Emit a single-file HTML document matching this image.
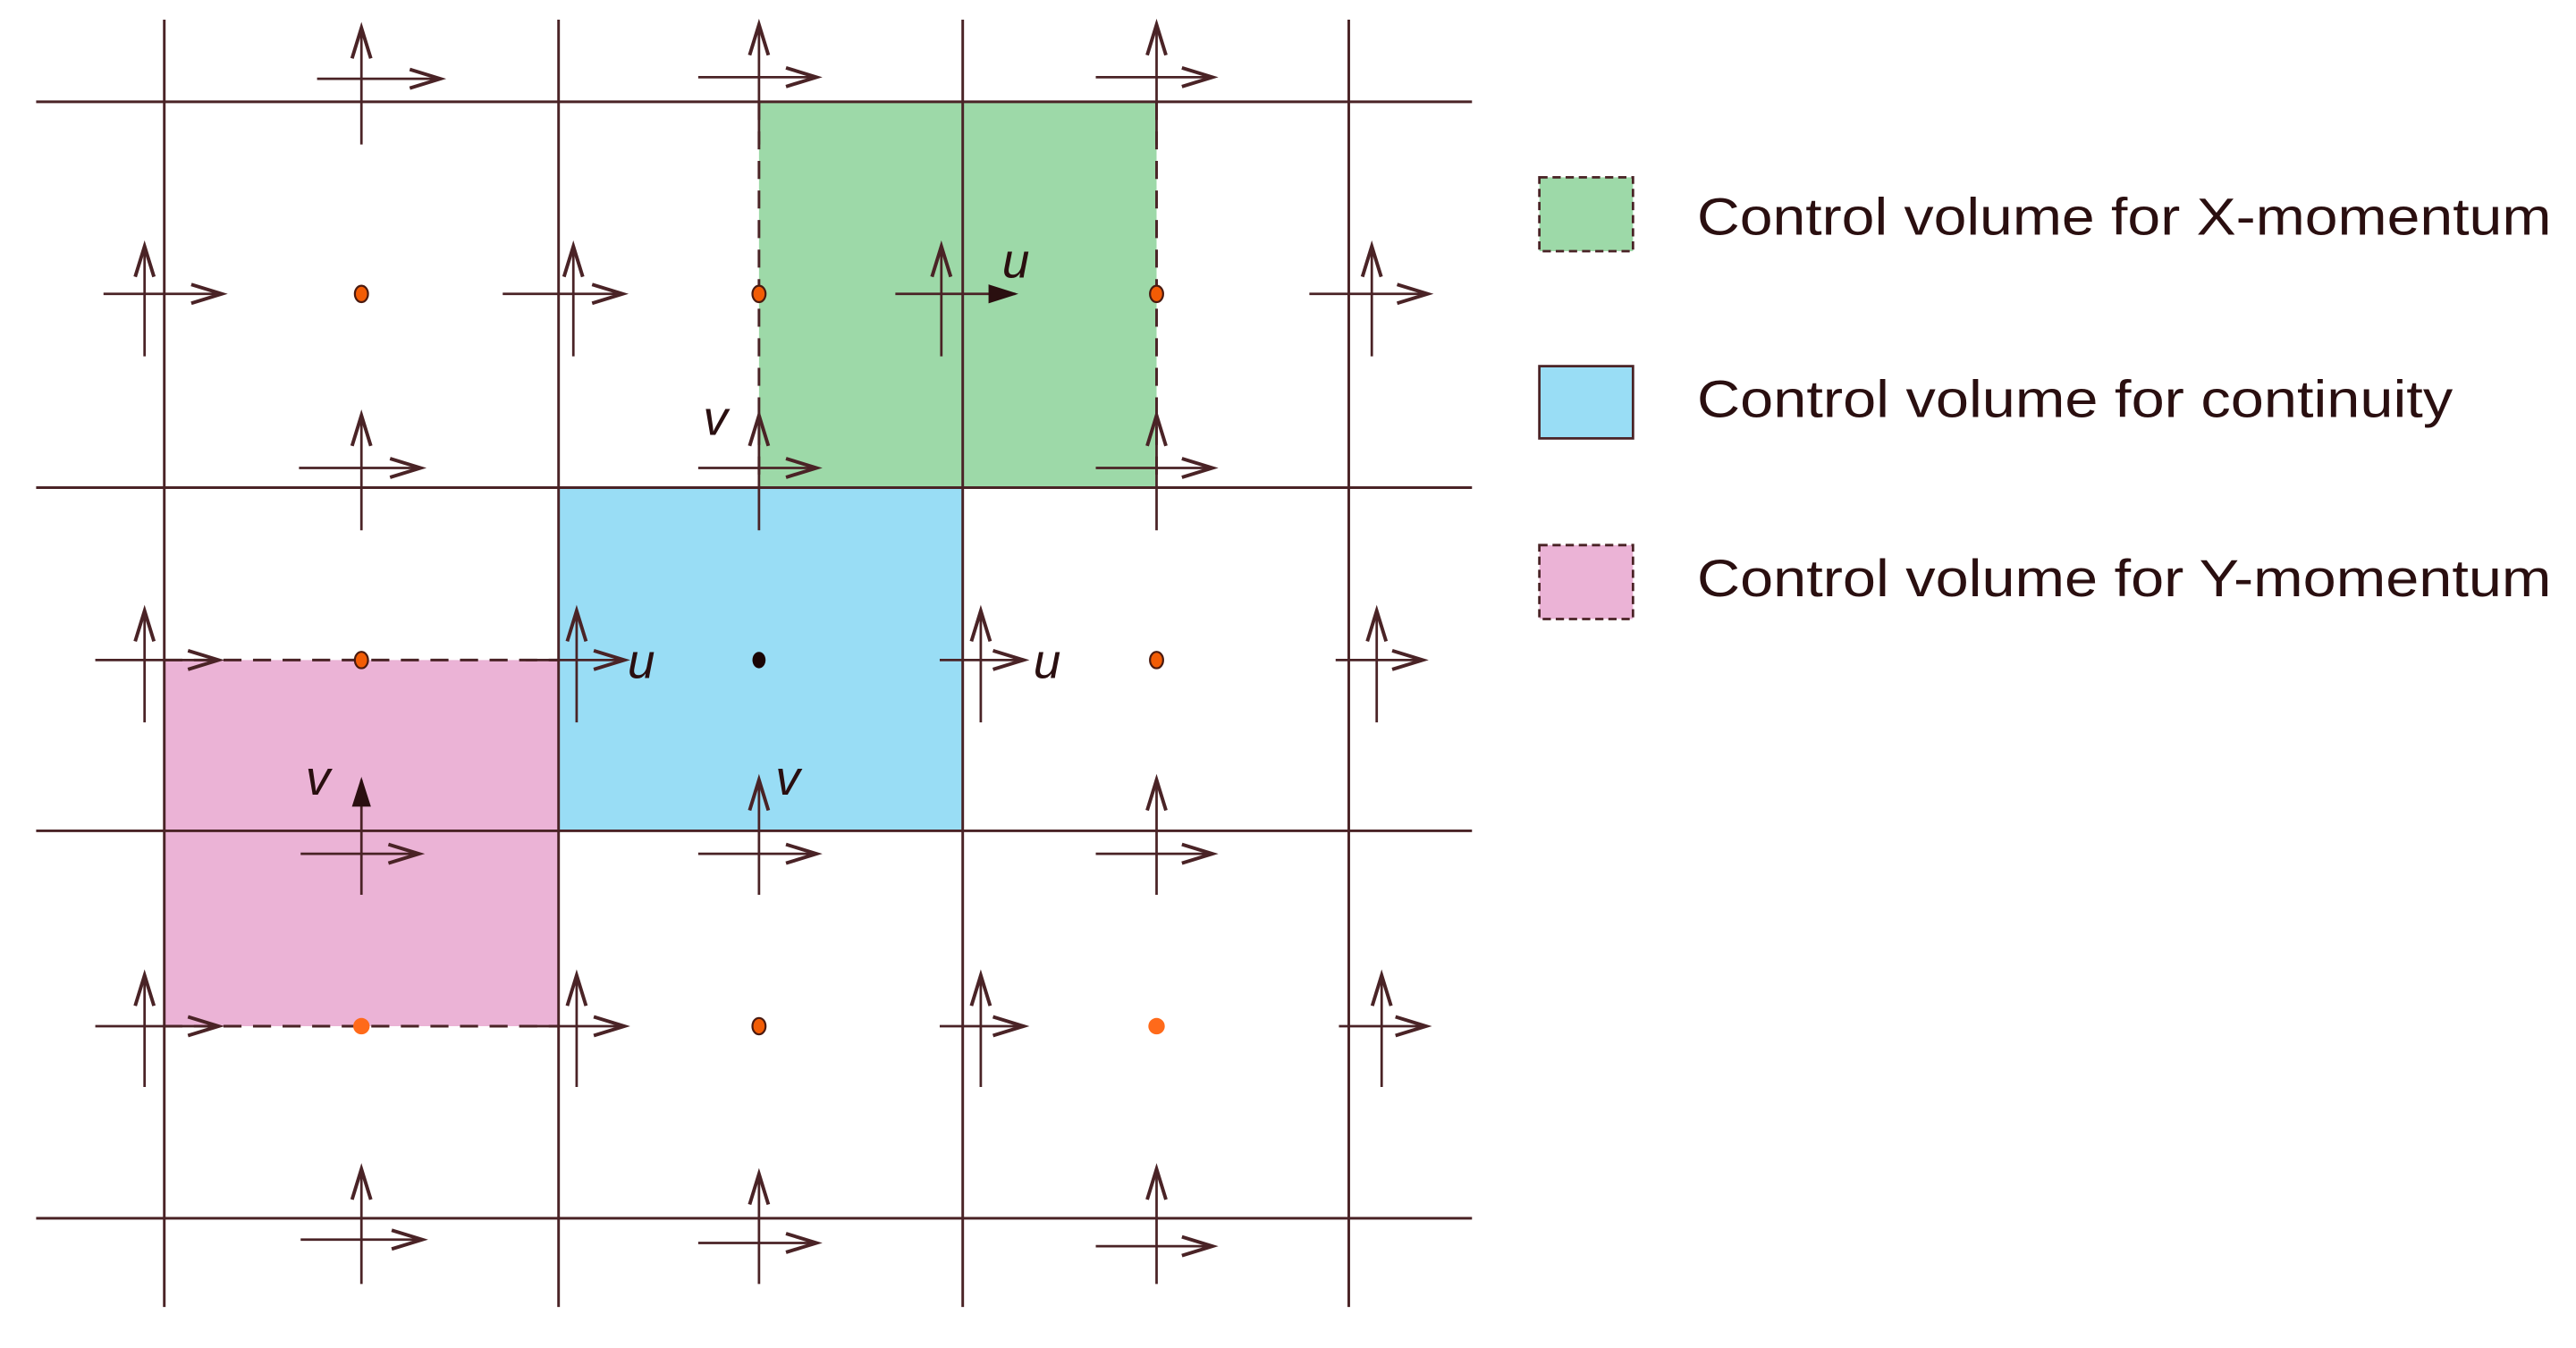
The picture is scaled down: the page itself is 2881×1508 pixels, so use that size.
<!DOCTYPE html>
<html><head><meta charset="utf-8"><style>html,body{margin:0;padding:0;background:#fff}svg{display:block}</style></head>
<body>
<svg width="2881" height="1508" viewBox="0 0 1568 821" preserveAspectRatio="none" xmlns="http://www.w3.org/2000/svg">
<defs>
<marker id="a" markerUnits="userSpaceOnUse" markerWidth="20" markerHeight="20" refX="0" refY="0" viewBox="-12 -6 14 12" orient="auto" overflow="visible">
<path d="M-13,-4 L0,0 L-13,4" fill="none" stroke="#4a2326" stroke-width="1.5"/>
</marker>
<marker id="b" markerUnits="userSpaceOnUse" markerWidth="20" markerHeight="20" refX="0" refY="0" viewBox="-12 -6 14 12" orient="auto" overflow="visible">
<path d="M-11,-3.5 L0,0 L-11,3.5 Z" fill="#2a0f10" stroke="#2a0f10" stroke-width="0.8"/>
</marker>
</defs>
<rect width="1568" height="821" fill="#fff"/>
<rect x="462" y="62" width="242" height="235" fill="#9dd9a8"/>
<rect x="340" y="297" width="246" height="209" fill="#99ddf5"/>
<rect x="100" y="402" width="240" height="223" fill="#ebb3d6"/>
<g stroke="#4a2326" stroke-width="1.6" fill="none">
<line x1="100" y1="12" x2="100" y2="796"/>
<line x1="340" y1="12" x2="340" y2="796"/>
<line x1="586" y1="12" x2="586" y2="796"/>
<line x1="821" y1="12" x2="821" y2="796"/>
<line x1="22" y1="62" x2="896" y2="62"/>
<line x1="22" y1="297" x2="896" y2="297"/>
<line x1="22" y1="506" x2="896" y2="506"/>
<line x1="22" y1="742" x2="896" y2="742"/>
<g stroke-dasharray="11,7">
<line x1="462" y1="62" x2="462" y2="297"/>
<line x1="704" y1="62" x2="704" y2="297"/>
<line x1="100" y1="402" x2="340" y2="402"/>
<line x1="100" y1="625" x2="340" y2="625"/>
</g>
</g>
<g stroke="#4a2326" stroke-width="1.5" marker-end="url(#a)">
<line x1="220" y1="88" x2="220" y2="17"/><line x1="193" y1="48" x2="268" y2="48"/>
<line x1="462" y1="88" x2="462" y2="15"/><line x1="425" y1="47" x2="497" y2="47"/>
<line x1="704" y1="88" x2="704" y2="15"/><line x1="667" y1="47" x2="738" y2="47"/>

<line x1="88" y1="217" x2="88" y2="150"/><line x1="63" y1="179" x2="135" y2="179"/>
<line x1="349" y1="217" x2="349" y2="150"/><line x1="306" y1="179" x2="379" y2="179"/>
<line x1="573" y1="217" x2="573" y2="150"/><line x1="545" y1="179" x2="618" y2="179" marker-end="url(#b)"/>
<line x1="835" y1="217" x2="835" y2="150"/><line x1="797" y1="179" x2="869" y2="179"/>

<line x1="220" y1="323" x2="220" y2="253"/><line x1="182" y1="285" x2="256" y2="285"/>
<line x1="462" y1="323" x2="462" y2="253"/><line x1="425" y1="285" x2="497" y2="285"/>
<line x1="704" y1="323" x2="704" y2="253"/><line x1="667" y1="285" x2="738" y2="285"/>

<line x1="88" y1="440" x2="88" y2="372"/><line x1="58" y1="402" x2="133" y2="402"/>
<line x1="351" y1="440" x2="351" y2="372"/><line x1="320" y1="402" x2="380" y2="402"/>
<line x1="597" y1="440" x2="597" y2="372"/><line x1="572" y1="402" x2="623" y2="402"/>
<line x1="838" y1="440" x2="838" y2="372"/><line x1="813" y1="402" x2="866" y2="402"/>

<line x1="220" y1="545" x2="220" y2="475" marker-end="url(#b)"/><line x1="183" y1="520" x2="255" y2="520"/>
<line x1="462" y1="545" x2="462" y2="475"/><line x1="425" y1="520" x2="497" y2="520"/>
<line x1="704" y1="545" x2="704" y2="475"/><line x1="667" y1="520" x2="738" y2="520"/>

<line x1="88" y1="662" x2="88" y2="594"/><line x1="58" y1="625" x2="133" y2="625"/>
<line x1="351" y1="662" x2="351" y2="594"/><line x1="320" y1="625" x2="380" y2="625"/>
<line x1="597" y1="662" x2="597" y2="594"/><line x1="572" y1="625" x2="623" y2="625"/>
<line x1="841" y1="662" x2="841" y2="594"/><line x1="815" y1="625" x2="868" y2="625"/>

<line x1="220" y1="782" x2="220" y2="712"/><line x1="183" y1="755" x2="257" y2="755"/>
<line x1="462" y1="782" x2="462" y2="715"/><line x1="425" y1="757" x2="497" y2="757"/>
<line x1="704" y1="782" x2="704" y2="712"/><line x1="667" y1="759" x2="738" y2="759"/>
</g>
<g fill="#f25c05" stroke="#4a1a10" stroke-width="1.2">
<ellipse cx="220" cy="179" rx="4" ry="5"/>
<ellipse cx="462" cy="179" rx="4" ry="5"/>
<ellipse cx="704" cy="179" rx="4" ry="5"/>
<ellipse cx="220" cy="402" rx="4" ry="5"/>
<ellipse cx="704" cy="402" rx="4" ry="5"/>
<ellipse cx="462" cy="625" rx="4" ry="5"/>
</g>
<ellipse cx="462" cy="402" rx="4" ry="5" fill="#1a0505"/>
<circle cx="220" cy="625" r="5" fill="#ff6a1a"/>
<circle cx="704" cy="625" r="5" fill="#ff6a1a"/>
<g font-family="Liberation Sans, sans-serif" font-style="italic" font-size="30" fill="#2a0f10">
<text x="610" y="169">u</text>
<text x="428" y="265">v</text>
<text x="382" y="413">u</text>
<text x="629" y="413">u</text>
<text x="186" y="484">v</text>
<text x="472" y="484">v</text>
</g>
<rect x="937" y="108" width="57" height="45" fill="#9dd9a8" stroke="#4a2326" stroke-width="1.5" stroke-dasharray="5,3"/>
<rect x="937" y="223" width="57" height="44" fill="#99ddf5" stroke="#4a2326" stroke-width="1.5"/>
<rect x="937" y="332" width="57" height="45" fill="#ebb3d6" stroke="#4a2326" stroke-width="1.5" stroke-dasharray="5,3"/>
<g font-family="Liberation Sans, sans-serif" font-size="32" fill="#2a0f10">
<text x="1033" y="143" textLength="520" lengthAdjust="spacingAndGlyphs">Control volume for X-momentum</text>
<text x="1033" y="254" textLength="460" lengthAdjust="spacingAndGlyphs">Control volume for continuity</text>
<text x="1033" y="363" textLength="520" lengthAdjust="spacingAndGlyphs">Control volume for Y-momentum</text>
</g>
</svg>
</body></html>
